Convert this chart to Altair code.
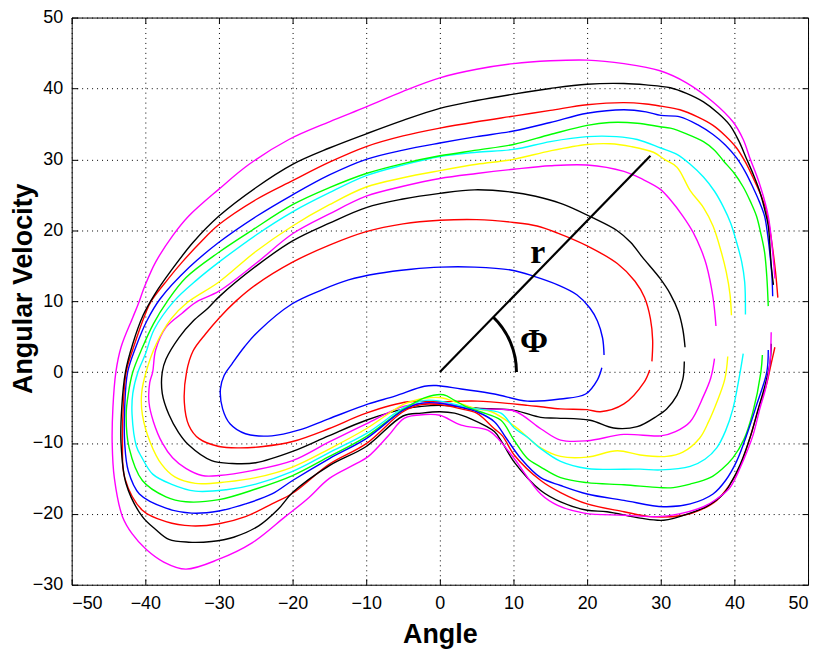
import altair as alt
import pandas as pd

x_ticks = [-50, -40, -30, -20, -10, 0, 10, 20, 30, 40, 50]
y_ticks = [-30, -20, -10, 0, 10, 20, 30, 40, 50]

# (angle, angular velocity) along each trajectory
blue_inner = [(22.0, 0.6), (21.4, -1.1), (19.8, -3.1), (16.4, -3.8), (11.9, -4.1), (7.4, -3.1), (2.9, -2.4),
              (-0.5, -1.9), (-2.1, -2.0), (-6.1, -3.4), (-9.7, -4.5), (-15.1, -6.6), (-19.2, -8.2), (-22.8, -9.0),
              (-26.4, -8.7), (-28.5, -7.3), (-29.5, -5.2), (-29.8, -2.4), (-29.3, -0.5), (-28.2, 1.2), (-26.5, 3.6),
              (-24.6, 5.8), (-20.1, 9.6), (-16.0, 11.6), (-12.4, 13.0), (-8.4, 13.9), (-3.9, 14.5), (0.1, 14.8),
              (4.7, 14.8), (9.6, 14.4), (12.8, 13.5), (16.0, 12.3), (18.6, 10.9), (20.4, 9.0), (21.4, 7.2),
              (22.1, 4.8), (22.3, 2.4)]
red_inner = [(28.5, 0.3), (27.7, -1.5), (25.0, -4.5), (21.8, -5.6), (20.0, -5.3), (16.4, -5.2), (13.7, -4.9),
             (11.9, -4.7), (5.1, -4.1), (0.0, -4.2), (-4.3, -4.2), (-10.0, -5.8), (-15.1, -8.0), (-20.0, -9.8),
             (-24.0, -10.5), (-27.3, -10.7), (-30.0, -10.5), (-32.7, -9.4), (-34.1, -7.5), (-34.7, -4.3),
             (-34.4, 0.0), (-33.5, 3.0), (-31.8, 5.4), (-30.0, 7.6), (-27.7, 10.0), (-25.0, 12.3), (-20.0, 15.5),
             (-15.0, 17.9), (-10.0, 19.8), (-5.0, 20.9), (0.0, 21.4), (5.0, 21.5), (10.0, 21.1), (13.2, 20.6),
             (16.0, 19.6), (20.0, 17.8), (24.1, 15.3), (26.5, 12.8), (27.8, 10.5), (28.6, 7.5), (28.9, 4.5),
             (28.8, 1.5)]
black_inner = [(33.2, 1.5), (33.0, -1.0), (32.2, -3.3), (30.8, -5.2), (29.5, -6.2), (26.8, -7.7), (23.6, -7.9),
               (20.4, -6.8), (15.9, -6.5), (13.7, -6.4), (10.1, -5.4), (5.1, -5.1), (0.0, -4.7), (-4.8, -5.2),
               (-10.0, -6.8), (-15.1, -9.0), (-20.0, -11.2), (-25.0, -12.8), (-28.2, -12.9), (-31.0, -12.5),
               (-34.1, -10.3), (-35.5, -8.5), (-36.8, -6.0), (-37.7, -3.0), (-37.7, 0.0), (-37.2, 1.8),
               (-35.4, 4.9), (-33.5, 7.2), (-31.5, 9.0), (-30.0, 10.6), (-25.0, 14.9), (-20.0, 18.5),
               (-15.0, 21.0), (-10.0, 23.2), (-5.0, 24.4), (0.0, 25.2), (4.7, 25.7), (9.6, 25.4), (13.0, 24.8),
               (16.4, 23.8), (20.9, 21.7), (24.0, 20.0), (25.9, 18.3), (27.5, 16.2), (29.9, 13.2), (31.3, 11.0),
               (32.4, 8.5), (33.0, 6.0), (33.3, 3.5)]
magenta_inner = [(37.3, 1.9), (36.8, -0.8), (35.8, -3.4), (34.0, -7.0), (32.0, -8.4), (30.0, -9.0), (25.0, -8.8),
                 (20.0, -9.7), (16.4, -9.6), (13.7, -8.0), (10.1, -5.5), (5.0, -5.2), (0.0, -4.4), (-4.8, -4.8),
                 (-10.0, -7.3), (-15.1, -9.9), (-20.0, -12.5), (-25.5, -13.9), (-30.0, -14.6), (-32.3, -14.6),
                 (-34.5, -13.6), (-36.3, -12.1), (-37.7, -10.0), (-38.9, -7.0), (-39.5, -4.3), (-39.4, -1.5),
                 (-39.0, 0.0), (-38.6, 3.1), (-37.2, 6.3), (-35.0, 8.3), (-33.2, 9.8), (-30.0, 11.4),
                 (-25.0, 15.3), (-20.0, 19.5), (-15.0, 22.3), (-10.0, 24.8), (-5.0, 26.2), (0.0, 27.3), (5.0, 28.0),
                 (10.0, 28.6), (15.0, 29.1), (20.0, 29.2), (25.0, 28.3), (27.5, 27.2), (29.9, 25.8), (31.3, 24.3),
                 (33.0, 22.0), (34.4, 19.7), (35.5, 17.2), (36.2, 15.1), (37.1, 10.5), (37.5, 6.5)]
yellow = [(39.1, 2.2), (38.7, -1.0), (37.6, -4.3), (36.5, -7.0), (35.3, -9.3), (33.0, -11.3), (30.8, -11.9),
          (27.2, -11.7), (24.1, -11.1), (20.0, -12.0), (16.4, -11.9), (13.7, -10.7), (10.1, -7.6), (7.0, -5.6),
          (5.0, -5.2), (2.9, -4.5), (0.0, -3.6), (-2.0, -3.7), (-4.8, -4.5), (-10.0, -8.0), (-15.1, -10.9),
          (-20.0, -13.4), (-25.0, -14.9), (-29.0, -15.5), (-33.2, -15.7), (-36.0, -14.8), (-37.8, -13.0),
          (-39.3, -10.0), (-40.4, -6.0), (-40.5, -3.0), (-39.9, 0.0), (-38.5, 4.0), (-36.5, 7.5), (-34.3, 9.8),
          (-30.0, 12.7), (-25.0, 17.0), (-20.0, 20.6), (-15.0, 23.6), (-10.0, 26.1), (-5.0, 27.4), (0.0, 28.4),
          (5.0, 29.3), (10.0, 30.0), (15.0, 31.2), (20.0, 32.1), (23.1, 32.2), (26.0, 31.8), (29.0, 31.0),
          (30.5, 30.0), (32.2, 28.9), (34.0, 25.6), (35.8, 23.2), (37.1, 20.6), (38.2, 17.0), (38.9, 14.1),
          (39.4, 11.0), (39.6, 8.0)]
cyan = [(41.2, 2.6), (40.7, -0.5), (39.8, -5.2), (38.8, -8.3), (37.6, -10.7), (36.0, -12.3), (34.0, -13.3),
        (30.0, -13.8), (27.2, -13.7), (20.0, -13.6), (16.4, -12.6), (13.7, -10.8), (11.9, -9.2), (10.1, -7.9),
        (8.3, -5.8), (5.0, -5.2), (3.8, -5.0), (0.0, -4.1), (-2.0, -4.0), (-4.8, -5.0), (-10.0, -8.7),
        (-15.1, -11.4), (-20.0, -14.0), (-25.0, -15.8), (-29.0, -16.6), (-33.2, -16.8), (-36.5, -15.8),
        (-39.0, -14.4), (-40.5, -12.0), (-41.2, -10.5), (-41.8, -6.0), (-41.7, -3.0), (-41.0, 0.0), (-40.0, 2.5),
        (-38.8, 6.0), (-36.1, 10.0), (-33.0, 13.0), (-30.0, 15.5), (-25.0, 19.3), (-20.0, 22.6), (-15.0, 25.3),
        (-10.0, 27.7), (-5.0, 29.2), (0.0, 30.4), (5.0, 31.0), (10.0, 31.4), (15.0, 32.5), (20.0, 33.2),
        (24.0, 33.2), (26.8, 32.8), (30.0, 31.6), (32.2, 30.7), (34.0, 29.3), (35.8, 27.5), (37.3, 25.5),
        (38.5, 23.3), (39.5, 21.0), (40.3, 18.3), (41.0, 15.5), (41.4, 12.7), (41.5, 8.1)]
green = [(43.8, 2.4), (43.6, 0.0), (42.5, -5.7), (41.3, -9.5), (39.8, -12.1), (38.3, -13.7), (36.7, -14.9),
         (34.0, -15.8), (31.7, -16.3), (29.9, -16.3), (25.0, -15.9), (20.0, -15.6), (16.4, -14.9), (13.7, -13.4),
         (11.9, -12.2), (10.0, -9.5), (8.3, -6.8), (5.5, -5.6), (3.8, -5.0), (2.0, -4.0), (0.5, -3.2),
         (-2.0, -3.6), (-5.0, -5.3), (-10.0, -9.1), (-15.0, -11.9), (-20.0, -14.6), (-25.0, -16.5),
         (-30.0, -18.0), (-34.5, -18.3), (-37.2, -17.6), (-40.4, -15.3), (-42.2, -10.7), (-42.6, -6.0),
         (-42.3, -3.0), (-41.7, 0.0), (-40.5, 3.2), (-38.9, 6.8), (-37.0, 10.0), (-34.5, 13.3), (-30.0, 16.9),
         (-25.5, 20.0), (-20.0, 23.6), (-15.0, 26.0), (-10.0, 28.0), (-5.0, 29.4), (0.0, 30.5), (5.0, 31.3),
         (10.0, 32.1), (15.0, 33.5), (20.0, 34.8), (23.0, 35.2), (26.8, 35.1), (29.9, 34.6), (31.3, 34.4),
         (33.5, 33.6), (35.8, 32.5), (37.3, 31.3), (38.5, 29.8), (40.0, 28.0), (41.2, 26.1), (42.2, 24.0),
         (43.0, 22.0), (43.6, 19.5), (44.1, 16.9), (44.4, 13.5), (44.6, 9.3)]
blue_outer = [(44.6, 3.1), (44.4, 0.0), (43.0, -4.7), (41.8, -8.5), (40.3, -12.6), (38.8, -15.3), (37.1, -17.2),
              (34.0, -18.6), (30.4, -19.0), (25.0, -18.1), (20.0, -17.2), (16.4, -16.0), (13.7, -14.9),
              (11.0, -12.2), (9.0, -9.3), (7.4, -7.0), (5.0, -5.6), (2.9, -5.0), (0.0, -4.4), (-2.5, -4.4),
              (-5.0, -5.4), (-10.0, -9.4), (-15.0, -12.2), (-20.0, -15.3), (-22.8, -17.2), (-26.4, -18.6),
              (-30.0, -19.6), (-33.7, -19.9), (-37.2, -19.2), (-40.8, -17.2), (-42.3, -14.0), (-42.8, -10.0),
              (-42.8, -5.0), (-42.4, 0.0), (-41.3, 3.5), (-39.8, 7.2), (-38.0, 10.3), (-34.0, 14.8),
              (-30.0, 18.3), (-25.0, 21.9), (-20.0, 25.0), (-15.0, 27.8), (-10.0, 30.0), (-5.0, 31.3), (0.0, 32.3),
              (5.0, 33.2), (10.0, 34.0), (15.0, 35.2), (20.0, 36.5), (25.0, 37.0), (28.0, 36.7), (30.0, 36.2),
              (32.6, 36.0), (35.0, 34.9), (37.1, 33.5), (38.8, 32.0), (40.3, 30.2), (41.5, 28.2), (42.5, 26.1),
              (43.4, 24.0), (44.1, 22.0), (44.5, 19.5), (44.8, 16.9), (45.1, 13.5), (45.2, 10.7)]
red_outer = [(45.5, 3.5), (45.0, 1.2), (44.3, -2.0), (43.4, -4.7), (42.2, -9.0), (40.7, -13.5), (39.3, -16.0),
             (37.6, -18.1), (35.5, -19.4), (33.1, -20.2), (28.6, -20.4), (25.0, -19.7), (20.0, -18.6),
             (16.4, -17.0), (13.7, -15.3), (10.1, -11.7), (8.5, -9.0), (7.4, -8.0), (5.0, -5.8), (2.9, -5.2),
             (0.0, -4.6), (-2.5, -4.6), (-5.0, -5.6), (-10.0, -10.1), (-15.0, -13.0), (-20.0, -17.1),
             (-22.8, -18.6), (-26.4, -20.4), (-30.0, -21.4), (-33.7, -21.7), (-37.2, -21.1), (-40.4, -19.5),
             (-42.8, -14.9), (-43.1, -10.0), (-43.0, -5.0), (-42.6, 0.0), (-41.6, 3.5), (-40.0, 8.2),
             (-39.2, 10.0), (-37.0, 13.0), (-35.0, 15.5), (-32.5, 18.3), (-30.0, 20.8), (-25.0, 24.3),
             (-20.0, 27.0), (-15.0, 29.6), (-10.0, 31.8), (-5.0, 33.3), (0.0, 34.4), (5.0, 35.3), (10.0, 36.1),
             (15.0, 36.9), (20.0, 37.7), (25.0, 38.0), (28.0, 37.8), (30.0, 37.5), (32.6, 37.0), (35.0, 36.0),
             (37.1, 34.8), (38.8, 33.3), (40.3, 31.6), (41.5, 29.6), (42.5, 27.5), (43.5, 25.2), (44.3, 22.9),
             (44.8, 20.2), (45.2, 17.4), (45.6, 14.0), (45.9, 10.5)]
black_outer = [(45.0, 4.0), (44.8, 1.0), (44.0, -2.5), (43.3, -5.0), (42.2, -9.0), (40.8, -13.0), (39.6, -15.5),
               (38.5, -17.2), (36.3, -18.9), (34.0, -19.9), (30.4, -20.9), (27.2, -20.6), (22.7, -19.7),
               (20.0, -19.5), (16.4, -18.3), (13.7, -16.7), (10.1, -12.7), (8.5, -10.0), (7.4, -8.4), (4.2, -6.6),
               (2.0, -5.8), (0.0, -5.6), (-2.5, -5.8), (-5.0, -6.2), (-10.0, -10.5), (-15.0, -13.2),
               (-20.0, -17.0), (-22.0, -19.4), (-24.6, -21.7), (-28.0, -23.3), (-31.0, -23.9), (-34.1, -24.0),
               (-36.8, -23.6), (-38.6, -22.2), (-40.4, -20.4), (-42.6, -15.8), (-43.3, -10.0), (-43.2, -5.0),
               (-42.7, 0.0), (-41.7, 4.0), (-40.3, 8.0), (-38.7, 11.0), (-36.5, 14.3), (-33.5, 18.3),
               (-30.0, 22.0), (-25.0, 26.0), (-20.0, 29.3), (-15.0, 31.6), (-10.0, 33.6), (-5.0, 35.5),
               (0.0, 37.2), (5.0, 38.3), (10.0, 39.2), (15.0, 40.0), (20.0, 40.6), (25.0, 40.7), (28.0, 40.5),
               (31.3, 40.1), (33.5, 39.3), (35.8, 38.1), (37.8, 36.5), (39.4, 34.8), (40.6, 32.6), (41.6, 30.2),
               (42.6, 27.8), (43.4, 25.6), (44.1, 23.0), (44.6, 20.6), (45.0, 15.1), (45.3, 12.3)]
magenta_outer = [(45.0, 5.6), (44.8, 1.0), (44.2, -2.5), (43.5, -5.0), (42.5, -9.0), (41.2, -12.5), (39.4, -16.3),
                 (37.6, -17.9), (35.8, -19.0), (32.5, -20.0), (29.5, -20.4), (25.0, -20.2), (19.6, -19.9),
                 (16.0, -18.8), (13.7, -17.2), (10.1, -12.2), (8.0, -9.5), (6.5, -8.2), (2.9, -7.5), (0.0, -6.1),
                 (-2.0, -6.0), (-4.8, -6.5), (-7.0, -9.0), (-9.7, -11.9), (-11.5, -13.0), (-15.0, -15.0),
                 (-18.0, -17.9), (-21.0, -20.4), (-25.5, -24.1), (-30.0, -26.4), (-34.5, -27.8), (-37.5, -26.8),
                 (-39.9, -25.0), (-41.8, -22.8), (-43.1, -20.4), (-44.2, -15.0), (-44.5, -10.0), (-44.4, -5.0),
                 (-44.0, 0.0), (-43.3, 3.5), (-41.7, 7.7), (-41.0, 9.5), (-40.0, 12.3), (-38.6, 15.5),
                 (-36.3, 19.2), (-34.1, 22.0), (-30.0, 25.8), (-25.9, 29.3), (-20.5, 32.8), (-15.0, 35.3),
                 (-10.0, 37.4), (-5.0, 39.6), (0.0, 41.5), (5.0, 42.7), (10.0, 43.5), (15.0, 43.9), (20.0, 44.0),
                 (25.0, 43.5), (29.9, 42.5), (33.5, 40.8), (37.1, 38.1), (39.8, 35.3), (41.2, 32.8), (42.1, 30.2),
                 (43.4, 26.6), (44.6, 22.0), (45.2, 16.9), (45.5, 13.2)]

curve_names = ["c01", "c02", "c03", "c04", "c05", "c06", "c07", "c08", "c09", "c10", "c11"]
curve_colors = ["#0000ff", "#ff0000", "#000000", "#ff00ff", "#ffff00", "#00ffff",
                "#00ff00", "#0000ff", "#ff0000", "#000000", "#ff00ff"]
curve_points = [blue_inner, red_inner, black_inner, magenta_inner, yellow, cyan,
                green, blue_outer, red_outer, black_outer, magenta_outer]

# annotation: radius r from the origin, its angle phi, and the two symbols
r_angle = [0.0, 28.6]
r_velocity = [0.0, 30.5]
label_text = ["r", "\u03a6"]
label_angle = [13.3, 12.8]
label_velocity = [16.8, 4.2]

rows = []
for name, points in zip(curve_names, curve_points):
    for step, (a, v) in enumerate(points):
        rows.append({"curve": name, "step": step, "angle": a, "velocity": v})
source = pd.DataFrame(rows)

radius_df = pd.DataFrame({"angle": r_angle, "velocity": r_velocity})
origin_df = radius_df.iloc[:1]
labels_df = pd.DataFrame({"text": label_text, "angle": label_angle, "velocity": label_velocity})

x_scale = alt.Scale(domain=[-50, 50], nice=False, zero=False)
y_scale = alt.Scale(domain=[-30, 50], nice=False, zero=False)

lines = alt.Chart(source).mark_line(strokeWidth=1.4, interpolate="catmull-rom").encode(
    x=alt.X("angle:Q", scale=x_scale, axis=alt.Axis(
        orient="bottom", values=x_ticks, format="d", offset=-6, tickSize=6, domain=False,
        grid=True, labelPadding=10, title="Angle", titleY=64, titleBaseline="alphabetic")),
    y=alt.Y("velocity:Q", scale=y_scale, axis=alt.Axis(
        orient="left", values=y_ticks, format="d", offset=-6, tickSize=6, domain=False,
        grid=True, labelPadding=9, title="Angular Velocity", titleAngle=270, titleX=-46,
        titleY=272, titleAlign="center", titleBaseline="alphabetic")),
    color=alt.Color("curve:N", scale=alt.Scale(domain=curve_names, range=curve_colors), legend=None),
    order=alt.Order("step:Q"),
)

radius = alt.Chart(radius_df).mark_line(color="black", strokeWidth=2.2).encode(
    x=alt.X("angle:Q", scale=x_scale, title="", axis=alt.Axis(
        orient="top", values=x_ticks, labels=False, offset=-6, tickSize=6, domain=False, grid=False)),
    y=alt.Y("velocity:Q", scale=y_scale, title="", axis=alt.Axis(
        orient="right", values=y_ticks, labels=False, offset=-6, tickSize=6, domain=False, grid=False)),
)

phi_arc = alt.Chart(origin_df).mark_arc(
    color="black", outerRadius=78.5, innerRadius=75.5, theta=0.7645, theta2=1.5708
).encode(
    x=alt.X("angle:Q", scale=x_scale, axis=None),
    y=alt.Y("velocity:Q", scale=y_scale, axis=None),
)

symbols = alt.Chart(labels_df).mark_text(
    font="Liberation Serif", fontWeight="bold", fontSize=34, color="black"
).encode(
    x=alt.X("angle:Q", scale=x_scale, axis=None),
    y=alt.Y("velocity:Q", scale=y_scale, axis=None),
    text="text:N",
)

chart = alt.layer(lines, radius, phi_arc, symbols).resolve_axis(
    x="independent", y="independent"
).properties(
    width=740,
    height=570,
    autosize=alt.AutoSizeParams(type="none"),
    padding={"left": 64, "top": 8, "right": 4, "bottom": 64},
).configure_view(
    stroke="black", strokeWidth=1
).configure_axis(
    labelFont="Liberation Sans", labelFontSize=18, labelColor="black",
    titleFont="Liberation Sans", titleFontSize=27, titleFontWeight="bold", titleColor="black",
    gridColor="black", gridDash=[1, 4], gridOpacity=1, gridWidth=1,
    tickColor="black", tickWidth=1,
)

chart.save("out.html", embed_options={"renderer": "svg", "actions": False})
